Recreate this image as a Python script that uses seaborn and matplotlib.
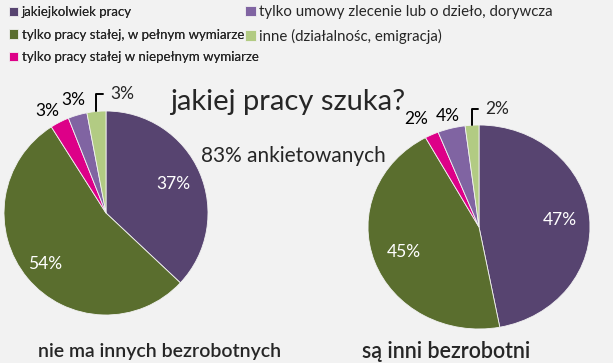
import numpy as np
import matplotlib
matplotlib.use('Agg')
import matplotlib.pyplot as plt
import seaborn as sns

# dane
kategorie = ['jakiejkolwiek pracy',
             'tylko pracy stałej, w pełnym wymiarze',
             'tylko pracy stałej w niepełnym wymiarze',
             'tylko umowy zlecenie lub o dzieło, dorywcza',
             'inne (działalnośc, emigracja)']
nie_ma_innych = [37, 54, 3, 3, 3]
sa_inni = [47, 45, 2, 4, 2]
kolory = ['#574470', '#5A6E2E', '#DD0088', '#8064A2', '#B2CB83']

sns.set_theme(style='white')
plt.rcParams['font.family'] = ['Lato', 'DejaVu Sans']
bg = '#F2F2F2'

fig = plt.figure(figsize=(6.13, 3.63), dpi=100, facecolor=bg)
W, H = 613, 363


def px_axes(x0, y0, x1, y1):
    # ramka w pikselach (od lewego górnego rogu) -> osie
    ax = fig.add_axes([x0 / W, 1 - y1 / H, (x1 - x0) / W, (y1 - y0) / H])
    ax.set_facecolor('none')
    return ax


def rysuj_pie(ax, wartosci, dyst, kat_off, x_etyk):
    wedges, _ = ax.pie(wartosci, colors=kolory, startangle=90, counterclock=False,
                       radius=1, wedgeprops=dict(edgecolor=bg, linewidth=0.6))
    ax.set_xlim(-1, 1)
    ax.set_ylim(-1, 1)
    ax.set_aspect('auto')
    ax.axis('off')
    for i, (w, v) in enumerate(zip(wedges, wartosci)):
        ang = np.deg2rad((w.theta1 + w.theta2) / 2)
        ang_t = ang + np.deg2rad(kat_off[i])
        x, y = np.cos(ang), np.sin(ang)
        tx, ty = dyst[i] * np.cos(ang_t), dyst[i] * np.sin(ang_t)
        txt = f'{v}%'
        if i < 2:
            ax.text(tx, ty, txt, color='white', fontsize=12.5, ha='center', va='center')
        elif i < 4:
            ax.text(tx, ty, txt, color='black', fontsize=12.5, ha='center', va='center')
        else:
            ax.annotate(txt, xy=(x, y), xytext=(x_etyk, dyst[i]), textcoords='data',
                        fontsize=12.5, ha='left', va='center', annotation_clip=False,
                        arrowprops=dict(arrowstyle='-', color='black', lw=1.4,
                                        shrinkA=3, shrinkB=0,
                                        connectionstyle='angle,angleA=0,angleB=90,rad=0'))
    return wedges


ax1 = px_axes(4, 111, 208, 315)
wedges = rysuj_pie(ax1, nie_ma_innych, [0.72, 0.78, 1.16, 1.15, 1.17],
                   [0, 0, 3, 0, 0], 0.04)

ax2 = px_axes(368, 125, 590, 329)
rysuj_pie(ax2, sa_inni, [0.73, 0.72, 1.2, 1.12, 1.16], [0, 0, 3, 0, 0], 0.06)

# teksty
fig.text(288 / W, 1 - 102 / H, 'jakiej pracy szuka?', fontsize=21, ha='center', va='center')
fig.text(293 / W, 1 - 156 / H, '83% ankietowanych', fontsize=15, ha='center', va='center')
fig.text(160 / W, 1 - 351 / H, 'nie ma innych bezrobotnych', fontsize=14,
         fontweight='semibold', ha='center', va='center')
fig.text(446 / W, 1 - 351 / H, 'są inni bezrobotni', fontsize=15.5,
         fontweight='semibold', ha='center', va='center')

# legenda - dwie kolumny osobno
leg_kw = dict(loc='upper left', frameon=False, handlelength=0.7, handleheight=0.7,
              handletextpad=0.25, borderpad=0, borderaxespad=0)
leg1 = fig.legend(wedges[:3], kategorie[:3], bbox_to_anchor=(9 / W, 1 - 6 / H),
                  fontsize=9.5, labelspacing=0.8, **leg_kw)
fig.add_artist(leg1)
fig.legend(wedges[3:], kategorie[3:], bbox_to_anchor=(245 / W, 1 - 5 / H),
           fontsize=10.8, labelspacing=0.66, **leg_kw)

fig.savefig('out.png', dpi=100, facecolor=bg)
